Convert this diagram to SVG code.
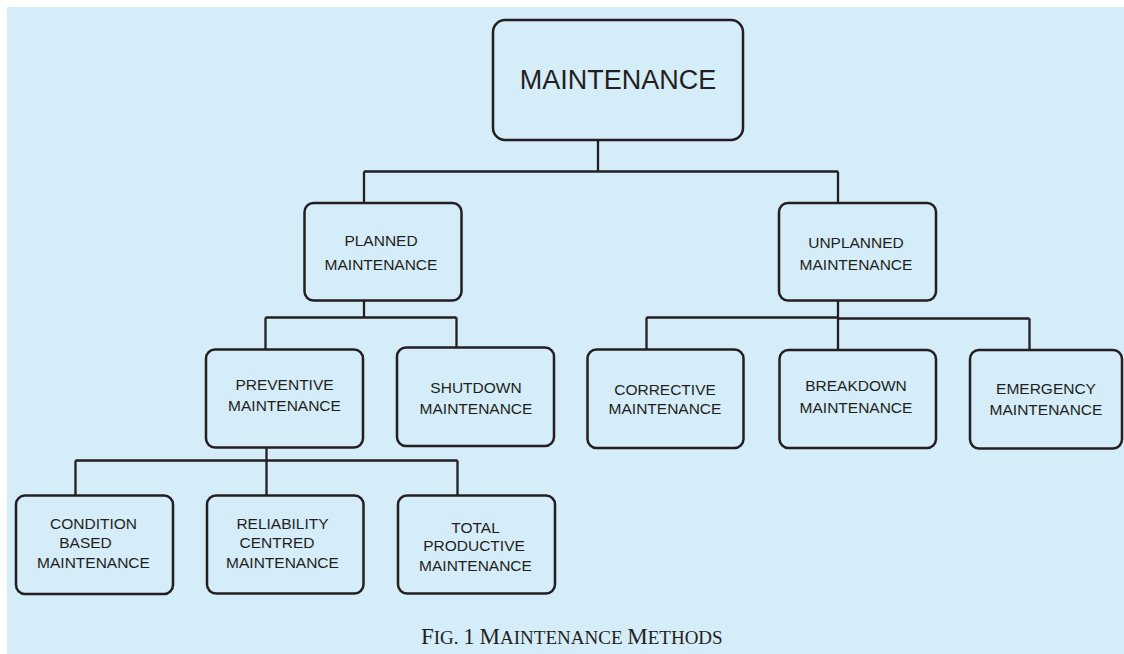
<svg xmlns="http://www.w3.org/2000/svg" width="1124" height="654" viewBox="0 0 1124 654">
  <style>
    .box { fill: #d5ecf9; stroke: #231f20; stroke-width: 2.5; }
    .conn { fill: none; stroke: #231f20; stroke-width: 2.3; }
    .lbl { font-family: "Liberation Sans", Arial, sans-serif; font-size: 15.5px; fill: #231f20; text-anchor: middle; }
    .big { font-family: "Liberation Sans", Arial, sans-serif; font-size: 27px; fill: #231f20; text-anchor: middle; }
    .cap { font-family: "Liberation Serif", "Times New Roman", serif; fill: #231f20; }
  </style>
  <rect x="0" y="0" width="1124" height="654" fill="#ffffff"/>
  <rect x="7" y="7" width="1117" height="647" fill="#d5ecf9"/>

  <g id="connectors">
    <path class="conn" d="M598 140 V171.5 M364 171.5 H838 M364 171.5 V203 M838 171.5 V203"/>
    <path class="conn" d="M364 300.5 V317.5 M265.5 317.5 H456.5 M265.5 317.5 V349.5 M456.5 317.5 V347.5"/>
    <path class="conn" d="M838 300.5 V318 M646.5 317.5 H838 M838 318.5 H1029.5 M646.5 317.5 V349.5 M838 318 V350 M1029.5 318.5 V350"/>
    <path class="conn" d="M266.5 447.5 V460.5 M75.5 460.5 H457.5 M75.5 460.5 V495.5 M266.5 460.5 V495.5 M457.5 460.5 V495.5"/>
  </g>

  <g id="maintenance">
    <rect class="box" x="493" y="20" width="250" height="120" rx="12"/>
    <text class="big" x="618" y="89">MAINTENANCE</text>
  </g>

  <g id="planned">
    <rect class="box" x="304.5" y="203" width="157" height="97.5" rx="9"/>
    <text class="lbl" x="381" y="245.5">PLANNED</text>
    <text class="lbl" x="381" y="269.5">MAINTENANCE</text>
  </g>

  <g id="unplanned">
    <rect class="box" x="779" y="203" width="157" height="97.5" rx="9"/>
    <text class="lbl" x="856" y="248">UNPLANNED</text>
    <text class="lbl" x="856" y="269.5">MAINTENANCE</text>
  </g>

  <g id="preventive">
    <rect class="box" x="206" y="349.5" width="157" height="98" rx="9"/>
    <text class="lbl" x="284.5" y="390">PREVENTIVE</text>
    <text class="lbl" x="284.5" y="411">MAINTENANCE</text>
  </g>

  <g id="shutdown">
    <rect class="box" x="397" y="347.5" width="157" height="98.5" rx="9"/>
    <text class="lbl" x="476" y="392.5">SHUTDOWN</text>
    <text class="lbl" x="476" y="413.5">MAINTENANCE</text>
  </g>

  <g id="corrective">
    <rect class="box" x="587.5" y="349.5" width="156" height="98.5" rx="9"/>
    <text class="lbl" x="665" y="395">CORRECTIVE</text>
    <text class="lbl" x="665" y="413.5">MAINTENANCE</text>
  </g>

  <g id="breakdown">
    <rect class="box" x="779.5" y="350" width="156.5" height="98" rx="9"/>
    <text class="lbl" x="856" y="391">BREAKDOWN</text>
    <text class="lbl" x="856" y="413">MAINTENANCE</text>
  </g>

  <g id="emergency">
    <rect class="box" x="970" y="350" width="152" height="98.5" rx="9"/>
    <text class="lbl" x="1046" y="393.5">EMERGENCY</text>
    <text class="lbl" x="1046" y="415">MAINTENANCE</text>
  </g>

  <g id="condition">
    <rect class="box" x="16" y="495.5" width="157" height="98.5" rx="9"/>
    <text class="lbl" x="93.5" y="528.5">CONDITION</text>
    <text class="lbl" x="85.5" y="548">BASED</text>
    <text class="lbl" x="93.5" y="567.5">MAINTENANCE</text>
  </g>

  <g id="reliability">
    <rect class="box" x="207" y="495.5" width="156.5" height="98" rx="9"/>
    <text class="lbl" x="282.5" y="528.5">RELIABILITY</text>
    <text class="lbl" x="277" y="548">CENTRED</text>
    <text class="lbl" x="282.5" y="567.5">MAINTENANCE</text>
  </g>

  <g id="total">
    <rect class="box" x="398" y="495.5" width="157" height="98" rx="9"/>
    <text class="lbl" x="475.5" y="533">TOTAL</text>
    <text class="lbl" x="474" y="551">PRODUCTIVE</text>
    <text class="lbl" x="475.5" y="571">MAINTENANCE</text>
  </g>

  <g id="caption">
    <text class="cap" x="421" y="644" font-size="23"><tspan>F</tspan><tspan font-size="19">IG. </tspan><tspan>1</tspan><tspan font-size="19"> </tspan><tspan>M</tspan><tspan font-size="19">AINTENANCE </tspan><tspan>M</tspan><tspan font-size="19">ETHODS</tspan></text>
  </g>
</svg>
